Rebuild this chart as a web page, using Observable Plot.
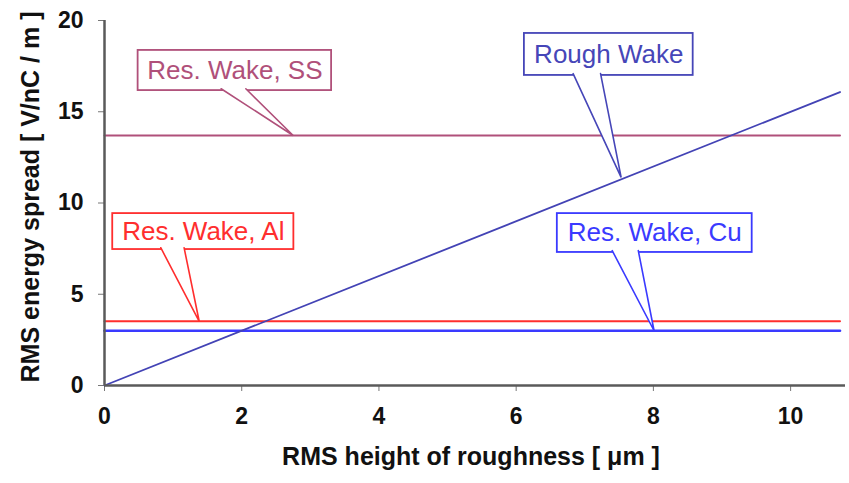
<!DOCTYPE html>
<html>
<head>
<meta charset="utf-8">
<script src="https://cdn.jsdelivr.net/npm/d3@7"></script>
<script src="https://cdn.jsdelivr.net/npm/@observablehq/plot@0.6"></script>
<style>
  html, body { margin: 0; padding: 0; background: white; }
  #chart svg g[aria-label^="x-axis"] text,
  #chart svg g[aria-label^="y-axis"] text { font-size: 23px; font-weight: bold; fill: #111; }
  #chart svg g[aria-label^="x-axis"] line,
  #chart svg g[aria-label^="y-axis"] line,
  #chart svg g[aria-label^="x-axis"] path,
  #chart svg g[aria-label^="y-axis"] path { stroke: #777; }
</style>
</head>
<body>
<div id="chart"></div>
<script>
// ---- data ----
const xTicks = [0, 2, 4, 6, 8, 10];
const yTicks = [0, 5, 10, 15, 20];
const xTitle = "RMS height of roughness [ \u03bcm ]";
const yTitle = "RMS energy spread [ V/nC / m ]";

// flat resistive-wall wake levels
const flatNames = ["Res. Wake, SS", "Res. Wake, Al", "Res. Wake, Cu"];
const flatValues = [13.7, 3.52, 3.0];
const flatColors = ["#b0507a", "#ff2e2e", "#3a3aff"];
const flatWidths = [2, 2, 2.6];
const xExtent = [0, 10.72];

// rough wake (linear)
const roughName = "Rough Wake";
const roughX = [0, 10.72];
const roughY = [0, 16.08];
const roughColor = "#4343b5";

// callout annotations (data units)
const calloutNames = ["Res. Wake, SS", "Rough Wake", "Res. Wake, Al", "Res. Wake, Cu"];
const calloutColors = ["#b0507a", "#4646b8", "#ff2e2e", "#3a3aff"];
const boxX1 = [0.49, 6.12, 0.12, 6.60];
const boxX2 = [3.31, 8.58, 2.76, 9.44];
const boxYTop = [18.36, 19.29, 9.42, 9.42];
const boxYBottom = [16.16, 16.99, 7.45, 7.29];
const baseX1 = [1.70, 6.83, 0.82, 7.40];
const baseX2 = [2.06, 7.23, 1.16, 7.78];
const tipX = [2.75, 7.53, 1.38, 8.01];
const tipY = [13.7, 11.4, 3.52, 3.0];

// ---- tables built from the arrays ----
const flatPts = flatNames.flatMap((n, i) => xExtent.map(x => ({name: n, x, y: flatValues[i], col: flatColors[i], w: flatWidths[i]})));
const roughPts = roughX.map((x, i) => ({name: roughName, x, y: roughY[i], col: roughColor}));
const callouts = calloutNames.map((n, i) => ({
  name: n, col: calloutColors[i],
  bx1: boxX1[i], bx2: boxX2[i], byt: boxYTop[i], byb: boxYBottom[i]
}));
const pointerPts = calloutNames.flatMap((n, i) => [
  {name: n, col: calloutColors[i], x: baseX1[i], y: boxYBottom[i] + 0.1},
  {name: n, col: calloutColors[i], x: tipX[i], y: tipY[i]},
  {name: n, col: calloutColors[i], x: baseX2[i], y: boxYBottom[i] + 0.1}
]);

const chart = Plot.plot({
  width: 849,
  height: 483,
  marginLeft: 104,
  marginRight: 4,
  marginTop: 20,
  marginBottom: 98,
  style: {fontFamily: "'Liberation Sans', Arial, sans-serif", background: "white", color: "#111"},
  color: {type: "identity"},
  x: {domain: [0, 10.8], ticks: xTicks, tickSize: 6, tickPadding: 16, label: null, tickFormat: d3.format("d")},
  y: {domain: [0, 20], ticks: yTicks, tickSize: 6, tickPadding: 15, label: null, tickFormat: d3.format("d")},
  marks: [
    Plot.line(flatPts.filter(d => d.name === flatNames[0]), {x: "x", y: "y", stroke: "col", strokeWidth: flatWidths[0]}),
    Plot.line(flatPts.filter(d => d.name === flatNames[1]), {x: "x", y: "y", stroke: "col", strokeWidth: flatWidths[1]}),
    Plot.line(flatPts.filter(d => d.name === flatNames[2]), {x: "x", y: "y", stroke: "col", strokeWidth: flatWidths[2]}),
    Plot.line(roughPts, {x: "x", y: "y", stroke: "col", strokeWidth: 1.8}),
    Plot.ruleX([0], {stroke: "#5a5a5a", strokeWidth: 2.5}),
    Plot.ruleY([0], {stroke: "#5a5a5a", strokeWidth: 2.5}),
    Plot.rect(callouts, {x1: "bx1", x2: "bx2", y1: "byb", y2: "byt", fill: "white", stroke: "col", strokeWidth: 1.8}),
    Plot.line(pointerPts, {x: "x", y: "y", z: "name", stroke: "col", fill: "white", strokeWidth: 1.6, strokeLinejoin: "miter"}),
    Plot.text(callouts, {x: d => (d.bx1 + d.bx2) / 2, y: d => (d.byt + d.byb) / 2, text: "name", fill: "col", fontSize: 26}),
    Plot.text([xTitle], {frameAnchor: "bottom", text: d => d, dx: -4, dy: 79, fontSize: 25, fontWeight: "bold", fill: "#111"}),
    Plot.text([yTitle], {frameAnchor: "left", textAnchor: "middle", text: d => d, rotate: -90, dx: -74, dy: -6, fontSize: 25, fontWeight: "bold", fill: "#111"})
  ]
});
document.getElementById("chart").appendChild(chart);
</script>
</body>
</html>
